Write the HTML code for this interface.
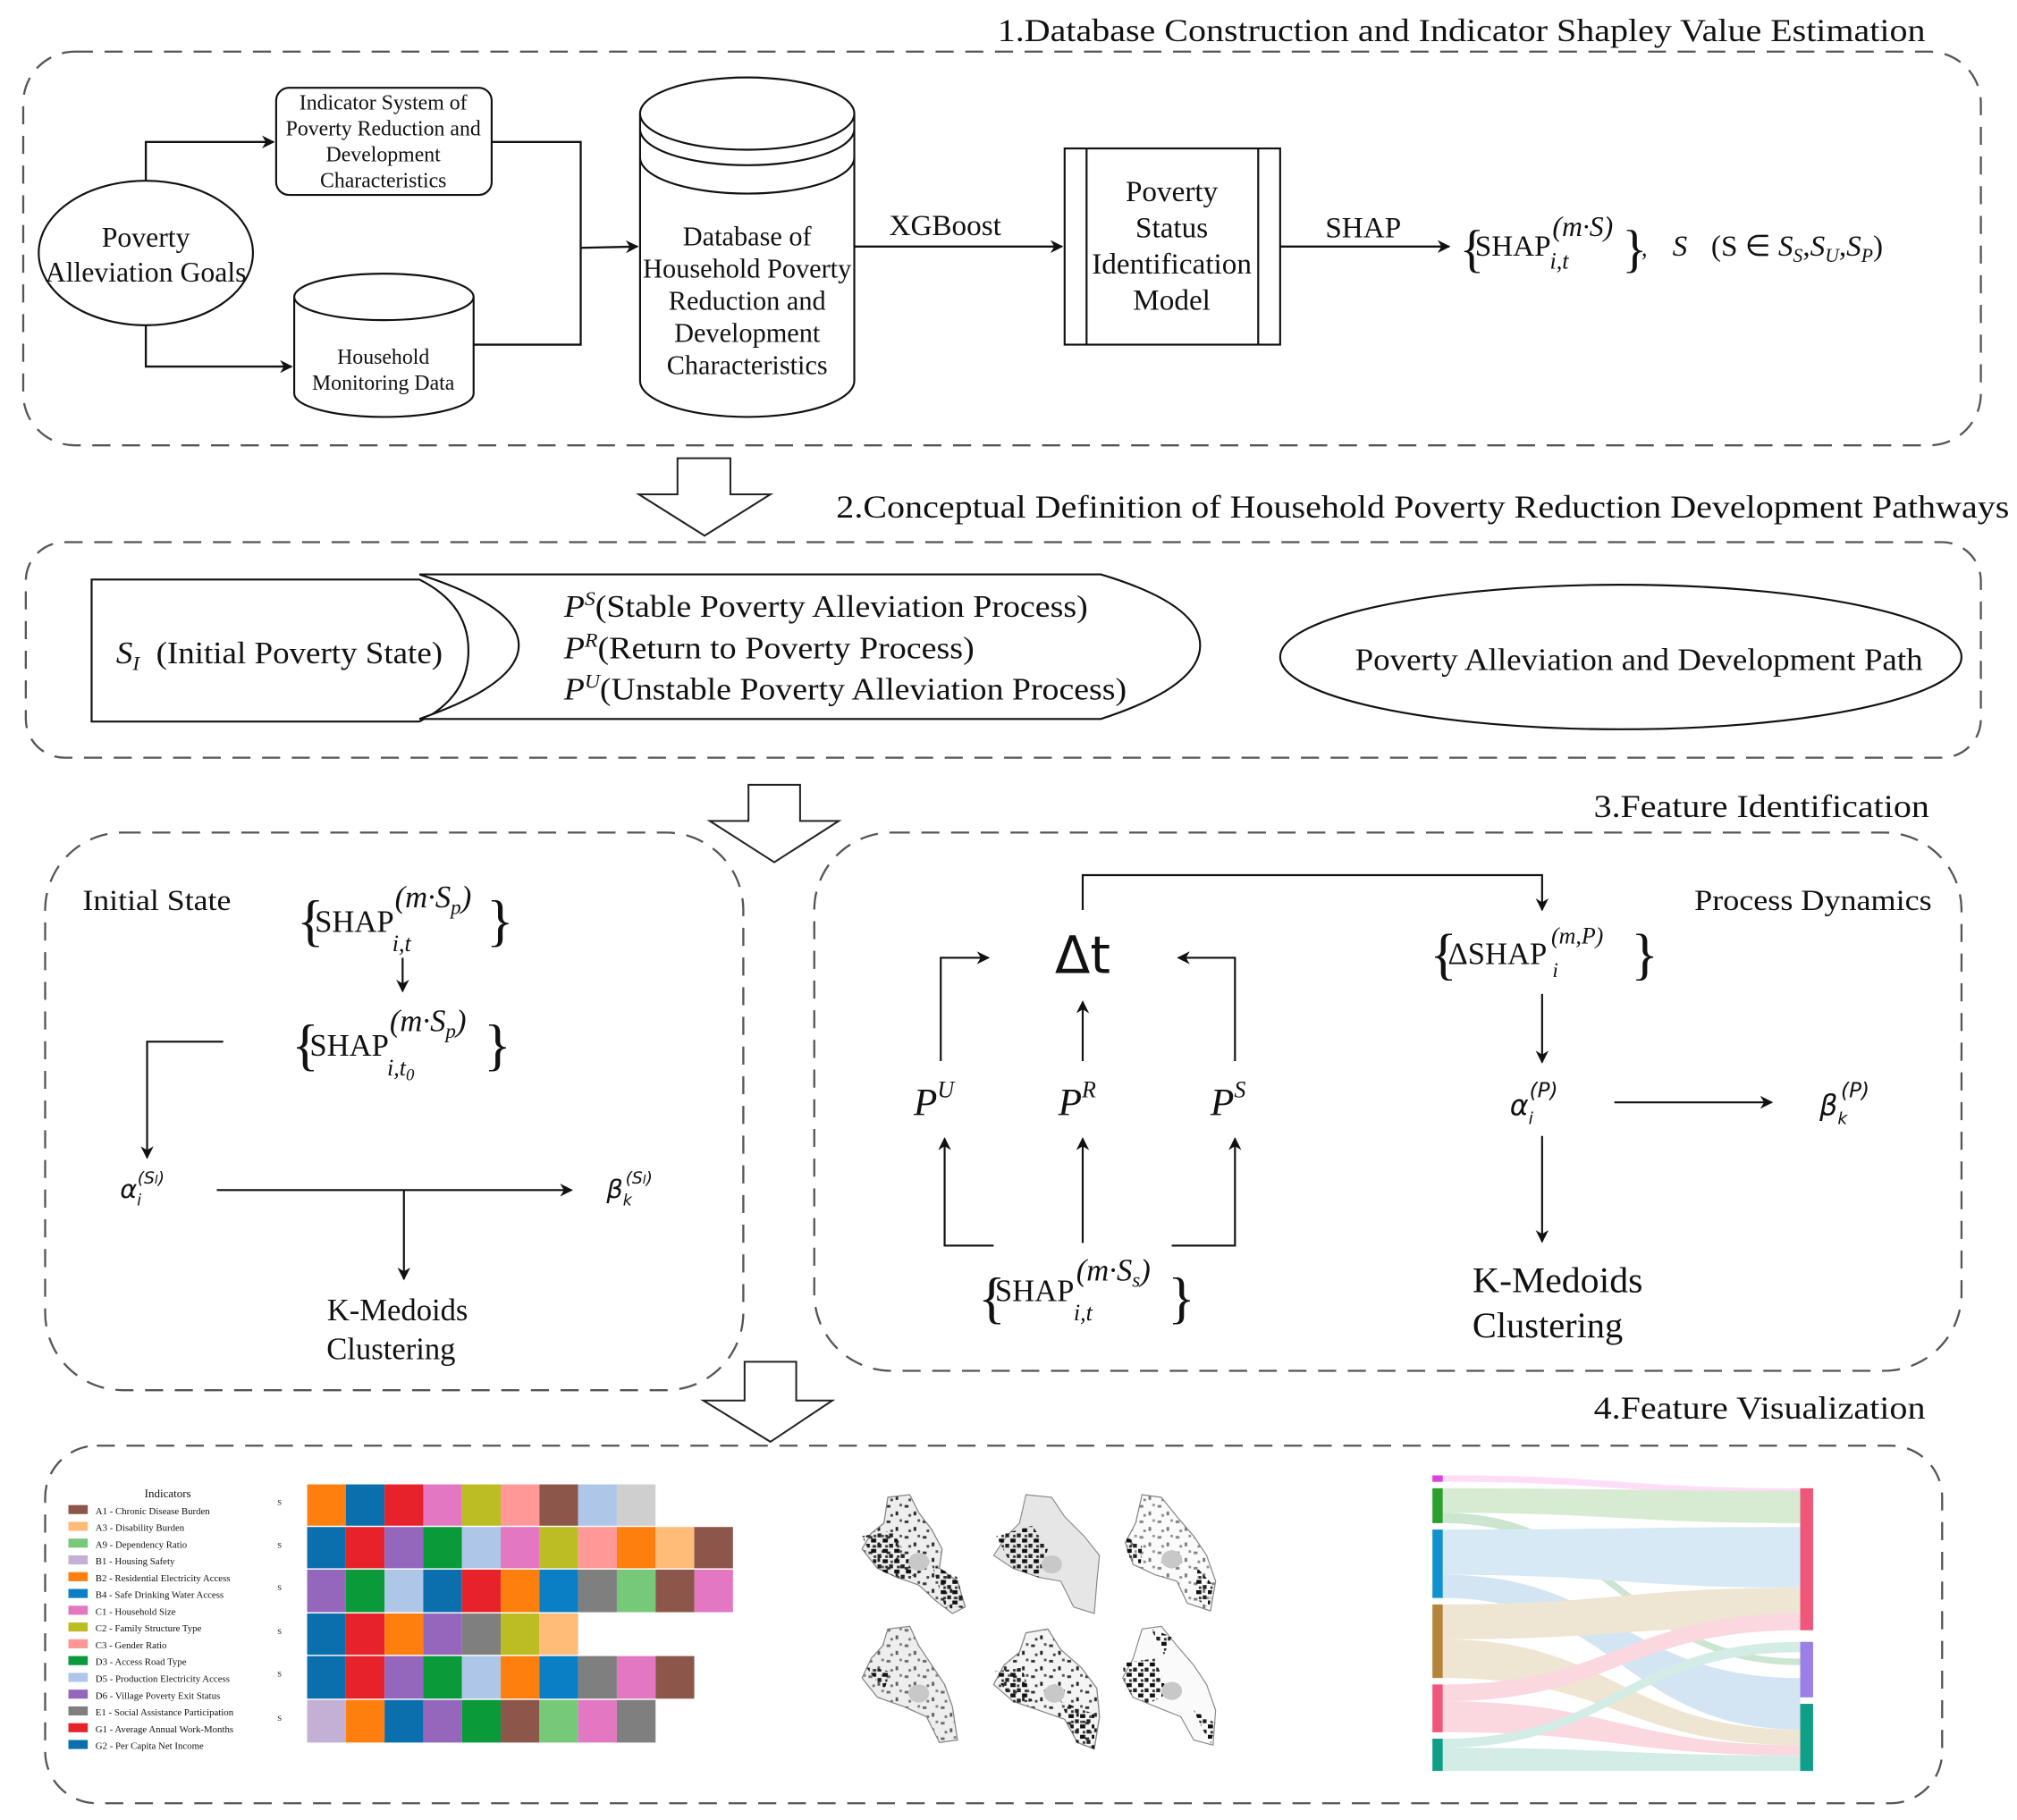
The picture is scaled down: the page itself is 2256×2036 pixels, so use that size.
<!DOCTYPE html>
<html><head><meta charset="utf-8"><style>
html,body{margin:0;padding:0;background:#fff;}
svg{display:block;}
text{font-family:"Liberation Serif",serif;fill:#111;}
.s{font-family:"DejaVu Sans","Liberation Sans",sans-serif;font-style:italic;}
</style></head><body>
<svg width="2256" height="2036" viewBox="0 0 1563 1410" preserveAspectRatio="none" xmlns="http://www.w3.org/2000/svg">
<defs>
<marker id="a" markerWidth="10" markerHeight="10" refX="9" refY="5" orient="auto" markerUnits="userSpaceOnUse"><path d="M0,0 L10,5 L0,10 L3,5 Z" fill="#111"/></marker>
<pattern id="sp" width="14" height="12" patternUnits="userSpaceOnUse">
<rect x="1" y="2" width="3" height="2" fill="#333"/><rect x="8" y="7" width="2" height="3" fill="#222"/><rect x="11" y="1" width="2" height="2" fill="#555"/><rect x="4" y="9" width="2" height="2" fill="#444"/>
</pattern>
<pattern id="sp2" width="9" height="8" patternUnits="userSpaceOnUse">
<rect x="0" y="0" width="4" height="3" fill="#111"/><rect x="5" y="4" width="3" height="3" fill="#222"/><rect x="2" y="5" width="2" height="2" fill="#333"/>
</pattern>
</defs>
<g fill="none" stroke="#555" stroke-width="1.6" stroke-dasharray="14,9">
<rect x="18" y="40" width="1517" height="305" rx="40"/>
<rect x="20" y="420" width="1515" height="167" rx="30"/>
<rect x="35" y="645" width="541" height="432" rx="60"/>
<rect x="631" y="645" width="889" height="417" rx="60"/>
<rect x="35" y="1120" width="1470" height="277" rx="40"/>
</g>
<g font-size="25">
<text x="773" y="32" textLength="719" lengthAdjust="spacingAndGlyphs">1.Database Construction and Indicator Shapley Value Estimation</text>
<text x="648" y="401" textLength="909" lengthAdjust="spacingAndGlyphs">2.Conceptual Definition of Household Poverty Reduction Development Pathways</text>
<text x="1235" y="633" textLength="260" lengthAdjust="spacingAndGlyphs">3.Feature Identification</text>
<text x="1235" y="1099" textLength="257" lengthAdjust="spacingAndGlyphs">4.Feature Visualization</text>
</g>
<!-- section1 -->
<g fill="#fff" stroke="#111" stroke-width="1.5">
<ellipse cx="113" cy="196" rx="83" ry="56"/>
<rect x="214" y="68" width="167" height="83" rx="10"/>
<path d="M228,230 V305 A69.5,18 0 0 0 367,305 V230"/>
<ellipse cx="297.5" cy="230" rx="69.5" ry="18"/>
<path d="M496,88 V295 A83,28 0 0 0 662,295 V88"/>
<ellipse cx="579" cy="88" rx="83" ry="28"/>
<path d="M496,100 A83,28 0 0 0 662,100 M496,122 A83,28 0 0 0 662,122" fill="none"/>
<rect x="825" y="115" width="167" height="152"/>
<path d="M842,115 V267 M975,115 V267"/>
</g>
<g fill="none" stroke="#111" stroke-width="1.6">
<path d="M113,140 V110 H212" marker-end="url(#a)"/>
<path d="M113,252 V284 H226" marker-end="url(#a)"/>
<path d="M381,110 H450 V267 H367"/>
<path d="M450,192 L494,191" marker-end="url(#a)"/>
<path d="M662,191 H823" marker-end="url(#a)"/>
<path d="M992,191 H1123" marker-end="url(#a)"/>
</g>
<g text-anchor="middle">
<text x="113" y="191" font-size="22">Poverty</text>
<text x="113" y="218" font-size="22">Alleviation Goals</text>
<g font-size="16.5"><text x="297" y="85">Indicator System of</text><text x="297" y="105">Poverty Reduction and</text><text x="297" y="125">Development</text><text x="297" y="145">Characteristics</text>
<text x="297" y="282">Household</text><text x="297" y="302">Monitoring Data</text></g>
<g font-size="21"><text x="579" y="190">Database of</text><text x="579" y="215">Household Poverty</text><text x="579" y="240">Reduction and</text><text x="579" y="265">Development</text><text x="579" y="290">Characteristics</text></g>
<g font-size="23"><text x="908" y="156">Poverty</text><text x="908" y="184">Status</text><text x="908" y="212">Identification</text><text x="908" y="240">Model</text></g>
</g>
<text x="689" y="182" font-size="23">XGBoost</text>
<text x="1027" y="184" font-size="23">SHAP</text>
<text x="1131" y="206" font-size="40">{</text>
<text x="1143" y="198" font-size="23">SHAP</text>
<text x="1203" y="183" font-size="22" font-style="italic">(m·S)</text>
<text x="1201" y="208" font-size="18" font-style="italic">i,t</text>
<text x="1257" y="206" font-size="40">}</text>
<text x="1272" y="198" font-size="18">,</text>
<text x="1296" y="198" font-size="23" font-style="italic">S</text>
<text x="1326" y="198" font-size="23">(S ∈ <tspan font-style="italic">S</tspan><tspan font-size="15" dy="5" font-style="italic">S</tspan><tspan dy="-5">,</tspan><tspan font-style="italic">S</tspan><tspan font-size="15" dy="5" font-style="italic">U</tspan><tspan dy="-5">,</tspan><tspan font-style="italic">S</tspan><tspan font-size="15" dy="5" font-style="italic">P</tspan><tspan dy="-5">)</tspan></text>
<!-- hollow arrows -->
<g fill="#fff" stroke="#222" stroke-width="1.4">
<path d="M525,355 H566 V383 H597 L546,415 L495,383 H525 Z"/>
<path d="M580,608 H620 V636 H650 L600,668 L550,636 H580 Z"/>
<path d="M577,1055 H617 V1085 H645 L597,1117 L545,1085 H577 Z"/>
</g>
<!-- section2 -->
<g fill="#fff" stroke="#111" stroke-width="1.5">
<path d="M71,449 H325 Q363,468 363,504 Q363,540 325,559 H71 Z"/>
<path d="M325,445 H853 Q930,468 930,500 Q930,532 853,557 H325 Q402,530 402,500 Q402,470 325,445 Z"/>
<ellipse cx="1256" cy="509" rx="264" ry="56"/>
</g>
<text x="90" y="514" font-size="24" textLength="253" lengthAdjust="spacingAndGlyphs"><tspan font-style="italic">S</tspan><tspan font-size="15" dy="5" font-style="italic">I</tspan><tspan dy="-5" dx="12">(Initial Poverty State)</tspan></text>
<g font-size="24">
<text x="437" y="478" textLength="406" lengthAdjust="spacingAndGlyphs"><tspan font-style="italic">P</tspan><tspan font-size="15" dy="-9" font-style="italic">S</tspan><tspan dy="9">(Stable Poverty Alleviation Process)</tspan></text>
<text x="437" y="510" textLength="318" lengthAdjust="spacingAndGlyphs"><tspan font-style="italic">P</tspan><tspan font-size="15" dy="-9" font-style="italic">R</tspan><tspan dy="9">(Return to Poverty Process)</tspan></text>
<text x="437" y="542" textLength="436" lengthAdjust="spacingAndGlyphs"><tspan font-style="italic">P</tspan><tspan font-size="15" dy="-9" font-style="italic">U</tspan><tspan dy="9">(Unstable Poverty Alleviation Process)</tspan></text>
<text x="1050" y="519" textLength="440" lengthAdjust="spacingAndGlyphs">Poverty Alleviation and Development Path</text>
</g>
<!-- section3 left -->
<text x="64" y="705" font-size="23" textLength="115" lengthAdjust="spacingAndGlyphs">Initial State</text>
<g font-size="24">
<text x="230" y="728" font-size="44">{</text><text x="244" y="722">SHAP</text><text x="306" y="703" font-style="italic">(m·S<tspan font-size="16" dy="5">p</tspan><tspan dy="-5">)</tspan></text><text x="304" y="737" font-size="18" font-style="italic">i,t</text><text x="377" y="728" font-size="44">}</text>
<text x="226" y="824" font-size="44">{</text><text x="240" y="818">SHAP</text><text x="302" y="799" font-style="italic">(m·S<tspan font-size="16" dy="5">p</tspan><tspan dy="-5">)</tspan></text><text x="300" y="833" font-size="18" font-style="italic">i,t<tspan font-size="13" dy="4">0</tspan></text><text x="375" y="824" font-size="44">}</text>
</g>
<g fill="none" stroke="#111" stroke-width="1.5">
<path d="M312,742 V768" marker-end="url(#a)"/>
<path d="M173,807 H114 V897" marker-end="url(#a)"/>
<path d="M168,922 H443" marker-end="url(#a)"/>
<path d="M313,922 V991" marker-end="url(#a)"/>
</g>
<text x="93" y="928" class="s" font-size="20">α<tspan font-size="12" dy="6">i</tspan><tspan font-size="13" dy="-17" dx="-3">(S<tspan font-size="9">I</tspan>)</tspan></text>
<text x="470" y="928" class="s" font-size="20">β<tspan font-size="12" dy="6">k</tspan><tspan font-size="13" dy="-17" dx="-5">(S<tspan font-size="9">I</tspan>)</tspan></text>
<g font-size="24" text-anchor="middle"><text x="308" y="1023">K-Medoids</text><text x="303" y="1053">Clustering</text></g>
<!-- section3 right -->
<text x="1313" y="705" font-size="23" textLength="184" lengthAdjust="spacingAndGlyphs">Process Dynamics</text>
<text x="839" y="754" font-size="40" text-anchor="middle" style="font-family:'DejaVu Sans',sans-serif">Δt</text>
<g fill="none" stroke="#111" stroke-width="1.5">
<path d="M839,705 V678 H1195 V705" marker-end="url(#a)"/>
<path d="M729,822 V742 H766" marker-end="url(#a)"/>
<path d="M839,822 V776" marker-end="url(#a)"/>
<path d="M957,822 V742 H913" marker-end="url(#a)"/>
<path d="M770,965 H732 V882" marker-end="url(#a)"/>
<path d="M839,963 V882" marker-end="url(#a)"/>
<path d="M908,965 H957 V882" marker-end="url(#a)"/>
<path d="M1195,770 V823" marker-end="url(#a)"/>
<path d="M1251,854 H1373" marker-end="url(#a)"/>
<path d="M1195,880 V962" marker-end="url(#a)"/>
</g>
<g class="s" font-size="30">
<text x="708" y="864">P<tspan font-size="18" dy="-14">U</tspan></text>
<text x="820" y="864">P<tspan font-size="18" dy="-14">R</tspan></text>
<text x="938" y="864">P<tspan font-size="18" dy="-14">S</tspan></text>
</g>
<text x="1108" y="754" font-size="44">{</text><text x="1122" y="747" font-size="24">ΔSHAP</text><text x="1202" y="731" font-size="18" font-style="italic">(m,P)</text><text x="1203" y="757" font-size="16" font-style="italic">i</text><text x="1264" y="754" font-size="44">}</text>
<text x="1170" y="864" class="s" font-size="22">α<tspan font-size="13" dy="7">i</tspan><tspan font-size="16" dy="-21" dx="-3">(P)</tspan></text>
<text x="1410" y="864" class="s" font-size="22">β<tspan font-size="13" dy="7">k</tspan><tspan font-size="16" dy="-21" dx="-5">(P)</tspan></text>
<g font-size="28"><text x="1141" y="1001" textLength="132" lengthAdjust="spacingAndGlyphs">K-Medoids</text><text x="1141" y="1036">Clustering</text></g>
<g font-size="24">
<text x="758" y="1020" font-size="44">{</text><text x="771" y="1008">SHAP</text><text x="834" y="992" font-style="italic">(m·S<tspan font-size="16" dy="5">s</tspan><tspan dy="-5">)</tspan></text><text x="832" y="1023" font-size="18" font-style="italic">i,t</text><text x="905" y="1020" font-size="44">}</text>
</g>
<!-- section4 legend -->
<text x="130" y="1160" font-size="9" text-anchor="middle">Indicators</text>
<g font-size="7.5">
<rect x="53" y="1166" width="15" height="7" fill="#8c564b"/><text x="74" y="1173">A1 - Chronic Disease Burden</text>
<rect x="53" y="1179" width="15" height="7" fill="#ffbb78"/><text x="74" y="1186">A3 - Disability Burden</text>
<rect x="53" y="1192" width="15" height="7" fill="#77c97a"/><text x="74" y="1199">A9 - Dependency Ratio</text>
<rect x="53" y="1205" width="15" height="7" fill="#c5b0d5"/><text x="74" y="1212">B1 - Housing Safety</text>
<rect x="53" y="1218" width="15" height="7" fill="#ff7f0e"/><text x="74" y="1225">B2 - Residential Electricity Access</text>
<rect x="53" y="1231" width="15" height="7" fill="#0a7fc6"/><text x="74" y="1238">B4 - Safe Drinking Water Access</text>
<rect x="53" y="1244" width="15" height="7" fill="#e377c2"/><text x="74" y="1251">C1 - Household Size</text>
<rect x="53" y="1257" width="15" height="7" fill="#bcbd22"/><text x="74" y="1264">C2 - Family Structure Type</text>
<rect x="53" y="1270" width="15" height="7" fill="#ff9896"/><text x="74" y="1277">C3 - Gender Ratio</text>
<rect x="53" y="1283" width="15" height="7" fill="#0a9a3a"/><text x="74" y="1290">D3 - Access Road Type</text>
<rect x="53" y="1296" width="15" height="7" fill="#aec7e8"/><text x="74" y="1303">D5 - Production Electricity Access</text>
<rect x="53" y="1309" width="15" height="7" fill="#9467bd"/><text x="74" y="1316">D6 - Village Poverty Exit Status</text>
<rect x="53" y="1322" width="15" height="7" fill="#7f7f7f"/><text x="74" y="1329">E1 - Social Assistance Participation</text>
<rect x="53" y="1335" width="15" height="7" fill="#e8222a"/><text x="74" y="1342">G1 - Average Annual Work-Months</text>
<rect x="53" y="1348" width="15" height="7" fill="#0b6fae"/><text x="74" y="1355">G2 - Per Capita Net Income</text>
</g>
<g font-size="6" fill="#333">
<text x="215" y="1166">S</text><text x="215" y="1199">S</text><text x="215" y="1232">S</text><text x="215" y="1266">S</text><text x="215" y="1299">S</text><text x="215" y="1333">S</text>
</g>
<!-- maps -->
<g id="m1">
<path d="M688,1160 L705,1158 L712,1172 L722,1185 L730,1200 L728,1215 L742,1225 L748,1245 L738,1250 L725,1240 L712,1228 L695,1222 L680,1215 L668,1200 L675,1188 L685,1180 Z" fill="#eee" stroke="#888" stroke-width="0.8"/>
</g>
<g stroke="#888" stroke-width="0.8">
<path d="M688,1160 L705,1158 L712,1172 L722,1185 L730,1200 L728,1215 L742,1225 L748,1245 L738,1250 L725,1240 L712,1228 L695,1222 L680,1215 L668,1200 L675,1188 L685,1180 Z" fill="url(#sp)"/>
<path d="M795,1158 L815,1160 L825,1175 L840,1190 L852,1205 L850,1225 L848,1250 L832,1245 L822,1225 L805,1222 L785,1215 L770,1205 L780,1190 L790,1180 Z" fill="#e6e6e6"/>
<path d="M885,1158 L900,1160 L912,1175 L925,1190 L935,1205 L942,1225 L938,1248 L920,1242 L912,1225 L895,1220 L878,1212 L872,1195 L880,1180 Z" fill="#fafafa"/>
<path d="M885,1158 L900,1160 L912,1175 L925,1190 L935,1205 L942,1225 L938,1248 L920,1242 L912,1225 L895,1220 L878,1212 L872,1195 L880,1180 Z" fill="url(#sp)" opacity="0.6"/>
<path d="M688,1262 L705,1260 L712,1275 L722,1290 L732,1305 L738,1322 L742,1348 L728,1350 L718,1330 L700,1322 L680,1315 L668,1300 L675,1285 L684,1275 Z" fill="#eee"/>
<path d="M688,1262 L705,1260 L712,1275 L722,1290 L732,1305 L738,1322 L742,1348 L728,1350 L718,1330 L700,1322 L680,1315 L668,1300 L675,1285 L684,1275 Z" fill="url(#sp)" opacity="0.7"/>
<path d="M795,1265 L812,1262 L822,1278 L838,1292 L850,1308 L852,1330 L848,1355 L835,1350 L825,1332 L805,1325 L785,1318 L770,1305 L778,1290 L790,1280 Z" fill="#f4f4f4"/>
<path d="M795,1265 L812,1262 L822,1278 L838,1292 L850,1308 L852,1330 L848,1355 L835,1350 L825,1332 L805,1325 L785,1318 L770,1305 L778,1290 L790,1280 Z" fill="url(#sp)"/>
<path d="M885,1262 L900,1260 L912,1275 L925,1290 L935,1305 L942,1325 L940,1352 L925,1348 L915,1330 L895,1322 L878,1315 L870,1300 L878,1285 Z" fill="#fafafa"/>
</g>
<g fill="url(#sp2)">
<path d="M668,1190 L692,1186 L702,1205 L714,1218 L700,1224 L680,1216 Z"/>
<path d="M722,1212 L742,1222 L748,1246 L732,1244 Z"/>
<path d="M772,1190 L800,1182 L812,1200 L805,1222 L785,1215 Z"/>
<path d="M872,1190 L885,1198 L884,1212 L874,1206 Z"/>
<path d="M928,1215 L940,1228 L937,1246 L926,1238 Z"/>
<path d="M770,1295 L792,1292 L800,1318 L785,1320 Z"/>
<path d="M822,1318 L848,1328 L848,1355 L834,1350 Z"/>
<path d="M870,1288 L895,1285 L905,1312 L890,1320 L872,1310 Z"/>
<path d="M892,1262 L908,1268 L902,1282 Z"/>
<path d="M925,1325 L942,1335 L938,1352 Z"/>
<path d="M670,1290 L690,1295 L685,1310 Z"/>
</g>
<g fill="#c8c8c8"><ellipse cx="712" cy="1210" rx="8" ry="7"/><ellipse cx="815" cy="1212" rx="8" ry="7"/><ellipse cx="908" cy="1208" rx="8" ry="7"/><ellipse cx="712" cy="1312" rx="8" ry="7"/><ellipse cx="817" cy="1312" rx="8" ry="7"/><ellipse cx="908" cy="1310" rx="8" ry="7"/></g>
<!-- sankey -->
<g opacity="0.45">
<path d="M1118,1143 C1250,1143 1260,1153 1395,1153 L1395,1158 C1260,1158 1250,1148 1118,1148 Z" fill="#ffb3f0"/>
<path d="M1118,1153 C1250,1153 1260,1155 1395,1155 L1395,1180 C1260,1180 1250,1172 1118,1172 Z" fill="#a6d49a"/>
<path d="M1118,1172 C1250,1172 1260,1285 1395,1285 L1395,1290 C1260,1290 1250,1180 1118,1180 Z" fill="#8ec79a"/>
<path d="M1118,1185 C1250,1185 1260,1183 1395,1183 L1395,1230 C1260,1230 1250,1220 1118,1220 Z" fill="#a8d0ea"/>
<path d="M1118,1220 C1250,1220 1260,1300 1395,1300 L1395,1340 C1260,1340 1250,1238 1118,1238 Z" fill="#9ec7e6"/>
<path d="M1118,1243 C1250,1243 1260,1230 1395,1230 L1395,1260 C1260,1260 1250,1270 1118,1270 Z" fill="#ddc7a0"/>
<path d="M1118,1270 C1250,1270 1260,1340 1395,1340 L1395,1352 C1260,1352 1250,1300 1118,1300 Z" fill="#ddc7a0"/>
<path d="M1118,1305 C1250,1305 1260,1250 1395,1250 L1395,1263 C1260,1263 1250,1318 1118,1318 Z" fill="#f7a8bb"/>
<path d="M1118,1318 C1250,1318 1260,1352 1395,1352 L1395,1360 C1260,1360 1250,1342 1118,1342 Z" fill="#f7a8bb"/>
<path d="M1118,1347 C1250,1347 1260,1272 1395,1272 L1395,1280 C1260,1280 1250,1354 1118,1354 Z" fill="#9fd6c9"/>
<path d="M1118,1354 C1250,1354 1260,1360 1395,1360 L1395,1372 C1260,1372 1250,1372 1118,1372 Z" fill="#9fd6c9"/>
</g>
<g>
<rect x="1110" y="1143" width="8" height="5" fill="#e040e0"/>
<rect x="1110" y="1153" width="8" height="27" fill="#2ca02c"/>
<rect x="1110" y="1185" width="8" height="53" fill="#1192cc"/>
<rect x="1110" y="1243" width="8" height="57" fill="#b5843a"/>
<rect x="1110" y="1305" width="8" height="37" fill="#f0567a"/>
<rect x="1110" y="1347" width="8" height="25" fill="#0f9e88"/>
<rect x="1395" y="1153" width="10" height="110" fill="#f0567a"/>
<rect x="1395" y="1272" width="10" height="43" fill="#9b7fe8"/>
<rect x="1395" y="1320" width="10" height="52" fill="#0f9e88"/>
</g>
<g stroke="none">
<rect x="238" y="1150" width="30" height="32" fill="#ff7f0e"/><rect x="268" y="1150" width="30" height="32" fill="#0b6fae"/><rect x="298" y="1150" width="30" height="32" fill="#e8222a"/><rect x="328" y="1150" width="30" height="32" fill="#e377c2"/><rect x="358" y="1150" width="30" height="32" fill="#bcbd22"/><rect x="388" y="1150" width="30" height="32" fill="#ff9896"/><rect x="418" y="1150" width="30" height="32" fill="#8c564b"/><rect x="448" y="1150" width="30" height="32" fill="#aec7e8"/><rect x="478" y="1150" width="30" height="32" fill="#cfcfcf"/>
<rect x="238" y="1183" width="30" height="32" fill="#0b6fae"/><rect x="268" y="1183" width="30" height="32" fill="#e8222a"/><rect x="298" y="1183" width="30" height="32" fill="#9467bd"/><rect x="328" y="1183" width="30" height="32" fill="#0a9a3a"/><rect x="358" y="1183" width="30" height="32" fill="#aec7e8"/><rect x="388" y="1183" width="30" height="32" fill="#e377c2"/><rect x="418" y="1183" width="30" height="32" fill="#bcbd22"/><rect x="448" y="1183" width="30" height="32" fill="#ff9896"/><rect x="478" y="1183" width="30" height="32" fill="#ff7f0e"/><rect x="508" y="1183" width="30" height="32" fill="#ffbb78"/><rect x="538" y="1183" width="30" height="32" fill="#8c564b"/>
<rect x="238" y="1216" width="30" height="33" fill="#9467bd"/><rect x="268" y="1216" width="30" height="33" fill="#0a9a3a"/><rect x="298" y="1216" width="30" height="33" fill="#aec7e8"/><rect x="328" y="1216" width="30" height="33" fill="#0b6fae"/><rect x="358" y="1216" width="30" height="33" fill="#e8222a"/><rect x="388" y="1216" width="30" height="33" fill="#ff7f0e"/><rect x="418" y="1216" width="30" height="33" fill="#0a7fc6"/><rect x="448" y="1216" width="30" height="33" fill="#7f7f7f"/><rect x="478" y="1216" width="30" height="33" fill="#77c97a"/><rect x="508" y="1216" width="30" height="33" fill="#8c564b"/><rect x="538" y="1216" width="30" height="33" fill="#e377c2"/>
<rect x="238" y="1250" width="30" height="32" fill="#0b6fae"/><rect x="268" y="1250" width="30" height="32" fill="#e8222a"/><rect x="298" y="1250" width="30" height="32" fill="#ff7f0e"/><rect x="328" y="1250" width="30" height="32" fill="#9467bd"/><rect x="358" y="1250" width="30" height="32" fill="#7f7f7f"/><rect x="388" y="1250" width="30" height="32" fill="#bcbd22"/><rect x="418" y="1250" width="30" height="32" fill="#ffbb78"/>
<rect x="238" y="1283" width="30" height="33" fill="#0b6fae"/><rect x="268" y="1283" width="30" height="33" fill="#e8222a"/><rect x="298" y="1283" width="30" height="33" fill="#9467bd"/><rect x="328" y="1283" width="30" height="33" fill="#0a9a3a"/><rect x="358" y="1283" width="30" height="33" fill="#aec7e8"/><rect x="388" y="1283" width="30" height="33" fill="#ff7f0e"/><rect x="418" y="1283" width="30" height="33" fill="#0a7fc6"/><rect x="448" y="1283" width="30" height="33" fill="#7f7f7f"/><rect x="478" y="1283" width="30" height="33" fill="#e377c2"/><rect x="508" y="1283" width="30" height="33" fill="#8c564b"/>
<rect x="238" y="1317" width="30" height="33" fill="#c5b0d5"/><rect x="268" y="1317" width="30" height="33" fill="#ff7f0e"/><rect x="298" y="1317" width="30" height="33" fill="#0b6fae"/><rect x="328" y="1317" width="30" height="33" fill="#9467bd"/><rect x="358" y="1317" width="30" height="33" fill="#0a9a3a"/><rect x="388" y="1317" width="30" height="33" fill="#8c564b"/><rect x="418" y="1317" width="30" height="33" fill="#77c97a"/><rect x="448" y="1317" width="30" height="33" fill="#e377c2"/><rect x="478" y="1317" width="30" height="33" fill="#7f7f7f"/>
</g>
</svg>
</body></html>
